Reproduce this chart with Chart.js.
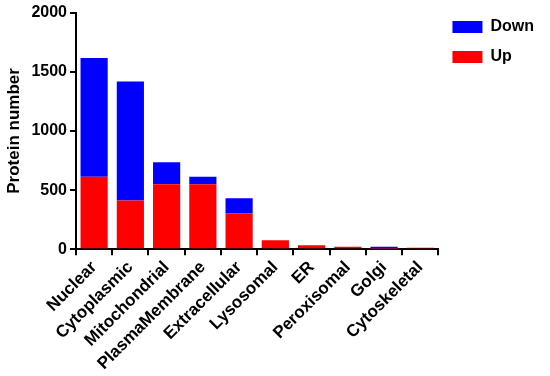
<!DOCTYPE html>
<html>
<head>
<meta charset="utf-8">
<script src="https://cdn.jsdelivr.net/npm/chart.js@4"></script>
<style>
html,body{margin:0;padding:0;background:#fff;}
#wrap{width:550px;height:376px;position:relative;}
</style>
</head>
<body>
<div id="wrap"><canvas id="c" width="550" height="376"></canvas></div>
<script>
const categories = ["Nuclear","Cytoplasmic","Mitochondrial","PlasmaMembrane","Extracellular","Lysosomal","ER","Peroxisomal","Golgi","Cytoskeletal"];
const upValues = [613, 413, 551, 550, 305, 76, 34, 23, 5, 14];
const downValues = [1003, 1005, 184, 63, 127, 0, 0, 0, 18, 0];
const yTicks = [0, 500, 1000, 1500, 2000];

const font = {family: "'Liberation Sans', Arial, sans-serif", weight: "bold"};

new Chart(document.getElementById('c'), {
  type: 'bar',
  data: {
    labels: categories,
    datasets: [
      {label: 'Up', data: upValues, backgroundColor: '#FF0000', borderWidth: 0},
      {label: 'Down', data: downValues, backgroundColor: '#0000FF', borderWidth: 0}
    ]
  },
  options: {
    responsive: false,
    animation: false,
    devicePixelRatio: 1,
    layout: {padding: {top: 5, left: 0, right: 6, bottom: 0}},
    datasets: {bar: {barPercentage: 0.75, categoryPercentage: 1.0}},
    plugins: {
      legend: {
        position: 'right',
        align: 'start',
        reverse: true,
        labels: {
          boxWidth: 30, boxHeight: 12, padding: 14, color: '#000',
          font: {...font, size: 16}
        }
      },
      tooltip: {enabled: false}
    },
    scales: {
      x: {
        stacked: true,
        grid: {display: true, drawOnChartArea: false, drawTicks: true, tickLength: 6, color: '#000', lineWidth: 2},
        border: {display: true, color: '#000', width: 2},
        ticks: {color: '#000', font: {...font, size: 17}, maxRotation: 45, minRotation: 45, padding: 2}
      },
      y: {
        stacked: true,
        min: 0, max: 2000,
        afterBuildTicks: (axis) => { axis.ticks = yTicks.map(v => ({value: v})); },
        grid: {display: true, drawOnChartArea: false, drawTicks: true, tickLength: 6, color: '#000', lineWidth: 2},
        border: {display: true, color: '#000', width: 2},
        ticks: {color: '#000', font: {...font, size: 16}, padding: 3, callback: (v) => String(v)},
        title: {display: true, text: 'Protein number', color: '#000', font: {...font, size: 17}, padding: 4}
      }
    }
  }
});
</script>
</body>
</html>
